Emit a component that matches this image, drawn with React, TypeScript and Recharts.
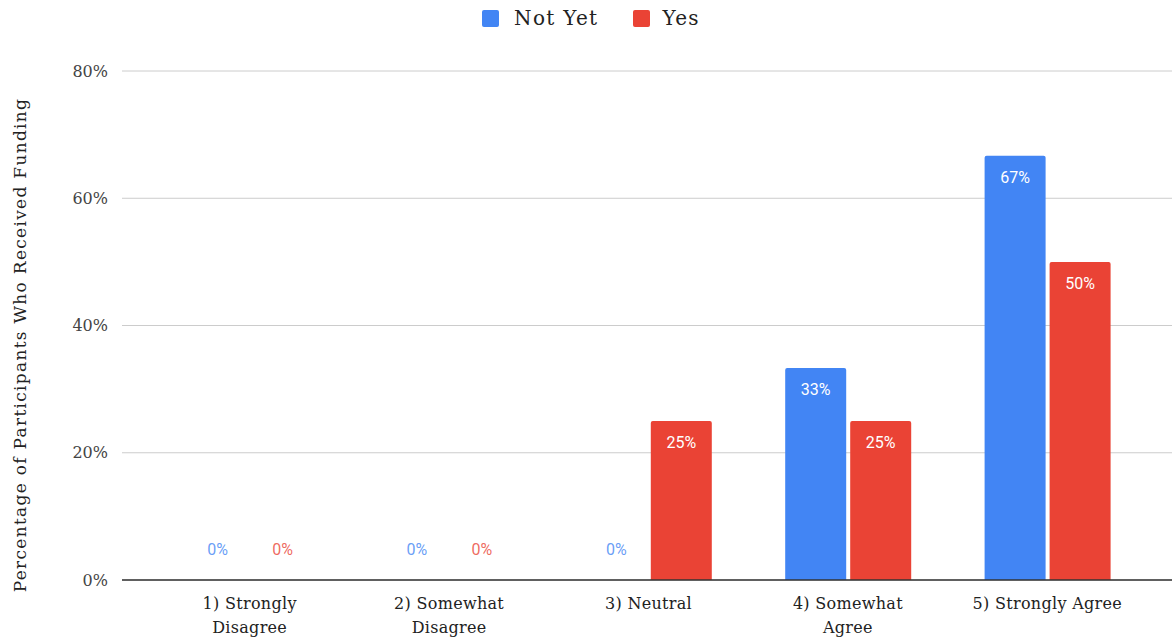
import { BarChart, Bar, XAxis, YAxis, CartesianGrid, Legend, LabelList } from 'recharts';

const CATEGORIES = ['1) Strongly Disagree', '2) Somewhat Disagree', '3) Neutral', '4) Somewhat Agree', '5) Strongly Agree'];
const TICK_LINES = [['1) Strongly', 'Disagree'], ['2) Somewhat', 'Disagree'], ['3) Neutral'], ['4) Somewhat', 'Agree'], ['5) Strongly Agree']];
const NOT_YET = [0, 0, 0, 33.33, 66.67];
const YES = [0, 0, 25, 25, 50];
const Y_TICKS = [0, 20, 40, 60, 80];

const BLUE = '#4285f4';
const RED = '#ea4335';
const SERIF = "'DejaVu Serif', serif";
const SANS = 'Roboto, sans-serif';

const data = CATEGORIES.map((name, i) => ({ name, notYet: NOT_YET[i], yes: YES[i] }));

const makeLabel = (color: string) => (props: any) => {
  const { x, y, width, value } = props;
  const cx = x + width / 2;
  const txt = `${Math.round(value)}%`;
  if (!value) {
    return (
      <text x={cx} y={y - 25} textAnchor="middle" fontFamily={SANS} fontSize={16} fill={color} fillOpacity={0.8}>
        {txt}
      </text>
    );
  }
  return (
    <text x={cx} y={y + 27} textAnchor="middle" fontFamily={SANS} fontSize={16} fill="#fff">
      {txt}
    </text>
  );
};

const XTick = (props: any) => {
  const { x, y, index } = props;
  const lines = TICK_LINES[index] || [];
  return (
    <text x={x} y={y} textAnchor="middle" fontFamily={SERIF} fontSize={16} letterSpacing={0.3} fill="#222">
      {lines.map((l, i) => (
        <tspan key={i} x={x} dy={i === 0 ? 21 : 24}>{l}</tspan>
      ))}
    </text>
  );
};

const LegendContent = () => (
  <div style={{ display: 'flex', justifyContent: 'center', alignItems: 'center', height: 36, fontFamily: SERIF, fontSize: 20, letterSpacing: 1.3, color: '#222', paddingLeft: 10 }}>
    <div style={{ width: 17, height: 17, background: BLUE, borderRadius: 2, marginRight: 15 }} />
    <span style={{ marginRight: 35 }}>Not Yet</span>
    <div style={{ width: 17, height: 17, background: RED, borderRadius: 2, marginRight: 12 }} />
    <span>Yes</span>
  </div>
);

export default function App() {
  return (
    <div style={{ position: 'absolute', left: 0, top: 0, background: '#fff' }}>
      <BarChart width={1172} height={642} data={data} margin={{ top: 35, right: 0, bottom: 0, left: 0 }} barGap={4}>
        <Legend verticalAlign="top" height={36} wrapperStyle={{ top: 0 }} content={<LegendContent />} />
        <CartesianGrid vertical={false} stroke="#cccccc" />
        <XAxis
          dataKey="name"
          height={62}
          padding={{ left: 28, right: 25 }}
          axisLine={{ stroke: '#333', strokeWidth: 1.5 }}
          tickLine={false}
          tick={<XTick />}
          interval={0}
        />
        <YAxis
          width={122}
          domain={[0, 80]}
          ticks={Y_TICKS}
          axisLine={false}
          tickLine={false}
          tickMargin={8}
          tickFormatter={(v: number) => `${v}%`}
          tick={{ fontFamily: SERIF, fontSize: 16, fill: '#444' }}
          label={(p: any) => (
            <text x={26} y={345} transform="rotate(-90 26 345)" textAnchor="middle" fontFamily={SERIF} fontSize={17} letterSpacing={1.3} fill="#222">
              Percentage of Participants Who Received Funding
            </text>
          )}
        />
        <Bar dataKey="notYet" name="Not Yet" fill={BLUE} barSize={61} minPointSize={0.01} radius={[2, 2, 0, 0]} isAnimationActive={false}>
          <LabelList dataKey="notYet" content={makeLabel(BLUE)} />
        </Bar>
        <Bar dataKey="yes" name="Yes" fill={RED} barSize={61} minPointSize={0.01} radius={[2, 2, 0, 0]} isAnimationActive={false}>
          <LabelList dataKey="yes" content={makeLabel(RED)} />
        </Bar>
      </BarChart>
    </div>
  );
}
